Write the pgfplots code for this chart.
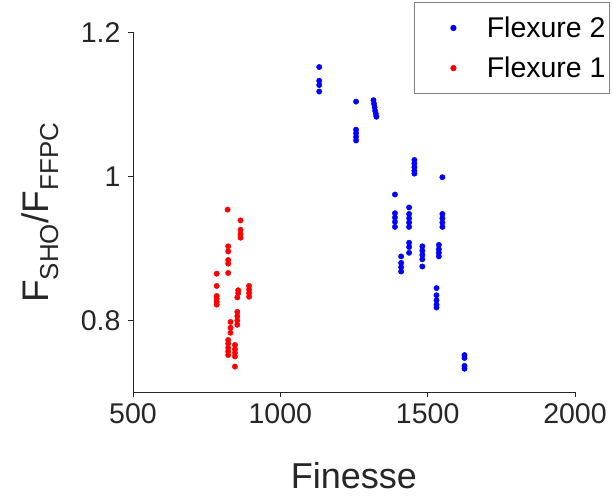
\documentclass[border=0pt]{standalone}
\usepackage{fontspec}
\setmainfont{Liberation Sans}
\usepackage{pgfplots}
\pgfplotsset{compat=1.18}
\definecolor{axgray}{RGB}{38,38,38}
\begin{document}
\begin{tikzpicture}
\begin{axis}[
    scale only axis,
    width=442pt, height=360pt,
    xmin=500, xmax=2000, ymin=0.7, ymax=1.2,
    xtick={500,1000,1500,2000},
    ytick={0.8,1,1.2},
    yticklabels={0.8,1,1.2},
    axis x line=bottom, axis y line=left,
    axis line style={-, axgray, line width=0.8pt},
    tick style={axgray, line width=0.8pt},
    tick align=outside,
    major tick length=5pt,
    /pgf/number format/assume math mode=true,
    /pgf/number format/1000 sep={},
    ticklabel style={font=\fontsize{28.5}{32}\selectfont, text=axgray},
    xticklabel style={yshift=-3pt},
    yticklabel style={xshift=-4pt},
    xlabel={Finesse},
    ylabel={F\textsubscript{SHO}/F\textsubscript{FFPC}},
    label style={font=\fontsize{36}{40}\selectfont, text=axgray},
    xlabel style={at={([yshift=-83pt]axis description cs:0.5,0)}, anchor=center},
    ylabel style={at={([xshift=-93pt]axis description cs:0,0.5)}, anchor=center, font=\fontsize{37}{40}\selectfont},
    legend style={at={(1,1)}, anchor=north east, xshift=35pt, yshift=30pt,
        draw=gray, line width=0.8pt, font=\fontsize{28.5}{32}\selectfont,
        inner xsep=2pt, inner ysep=12pt, row sep=14pt},
    legend cell align=left,
    mkstyle/.style={only marks, mark=*, mark size=2.7pt,
        legend image code/.code={\path (-37pt,0pt) (31pt,0pt); \draw[##1] plot coordinates {(0pt,0pt)};}},
]
\addplot[mkstyle, color=blue] coordinates {
(1132,1.152)(1132,1.133)(1132,1.127)(1132,1.118)
(1257,1.104)(1257,1.065)(1257,1.060)(1257,1.055)(1257,1.050)
(1316,1.106)(1318,1.101)(1320,1.096)(1322,1.091)(1324,1.087)(1326,1.083)
(1389,0.975)(1389,0.949)(1389,0.943)(1389,0.937)(1389,0.930)
(1410,0.889)(1410,0.880)(1410,0.874)(1410,0.868)
(1437,0.957)(1437,0.948)(1437,0.942)(1437,0.936)(1437,0.930)(1437,0.908)(1437,0.902)(1437,0.894)
(1455,1.023)(1455,1.018)(1455,1.013)(1455,1.008)(1455,1.004)
(1482,0.903)(1482,0.897)(1482,0.891)(1482,0.885)(1482,0.875)
(1530,0.845)(1530,0.835)(1530,0.828)(1530,0.822)(1530,0.818)
(1538,0.905)(1538,0.899)(1538,0.894)(1538,0.889)
(1550,0.999)(1550,0.948)(1550,0.942)(1550,0.936)(1550,0.930)
(1625,0.752)(1625,0.748)(1625,0.737)(1625,0.733)
};
\addlegendentry{Flexure 2}
\addplot[mkstyle, color=red] coordinates {
(821,0.954)
(865,0.939)(865,0.926)(865,0.920)(865,0.915)
(823,0.903)(823,0.896)(823,0.884)(823,0.879)(823,0.866)
(784,0.865)(784,0.848)(784,0.834)(784,0.830)(784,0.826)(784,0.822)
(857,0.842)(857,0.838)(854,0.832)
(894,0.848)(894,0.843)(894,0.838)(894,0.833)
(854,0.812)(854,0.806)(854,0.800)(854,0.794)
(831,0.798)(831,0.790)(831,0.783)
(823,0.773)(823,0.768)(823,0.762)(823,0.757)(823,0.752)
(846,0.766)(846,0.760)(846,0.755)(846,0.750)
(846,0.736)
};
\addlegendentry{Flexure 1}
\end{axis}
\pgfresetboundingbox
\useasboundingbox ([xshift=-133pt,yshift=-104pt]current axis.south west)
    rectangle ([xshift=38pt,yshift=32.5pt]current axis.north east);
\end{tikzpicture}
\end{document}
